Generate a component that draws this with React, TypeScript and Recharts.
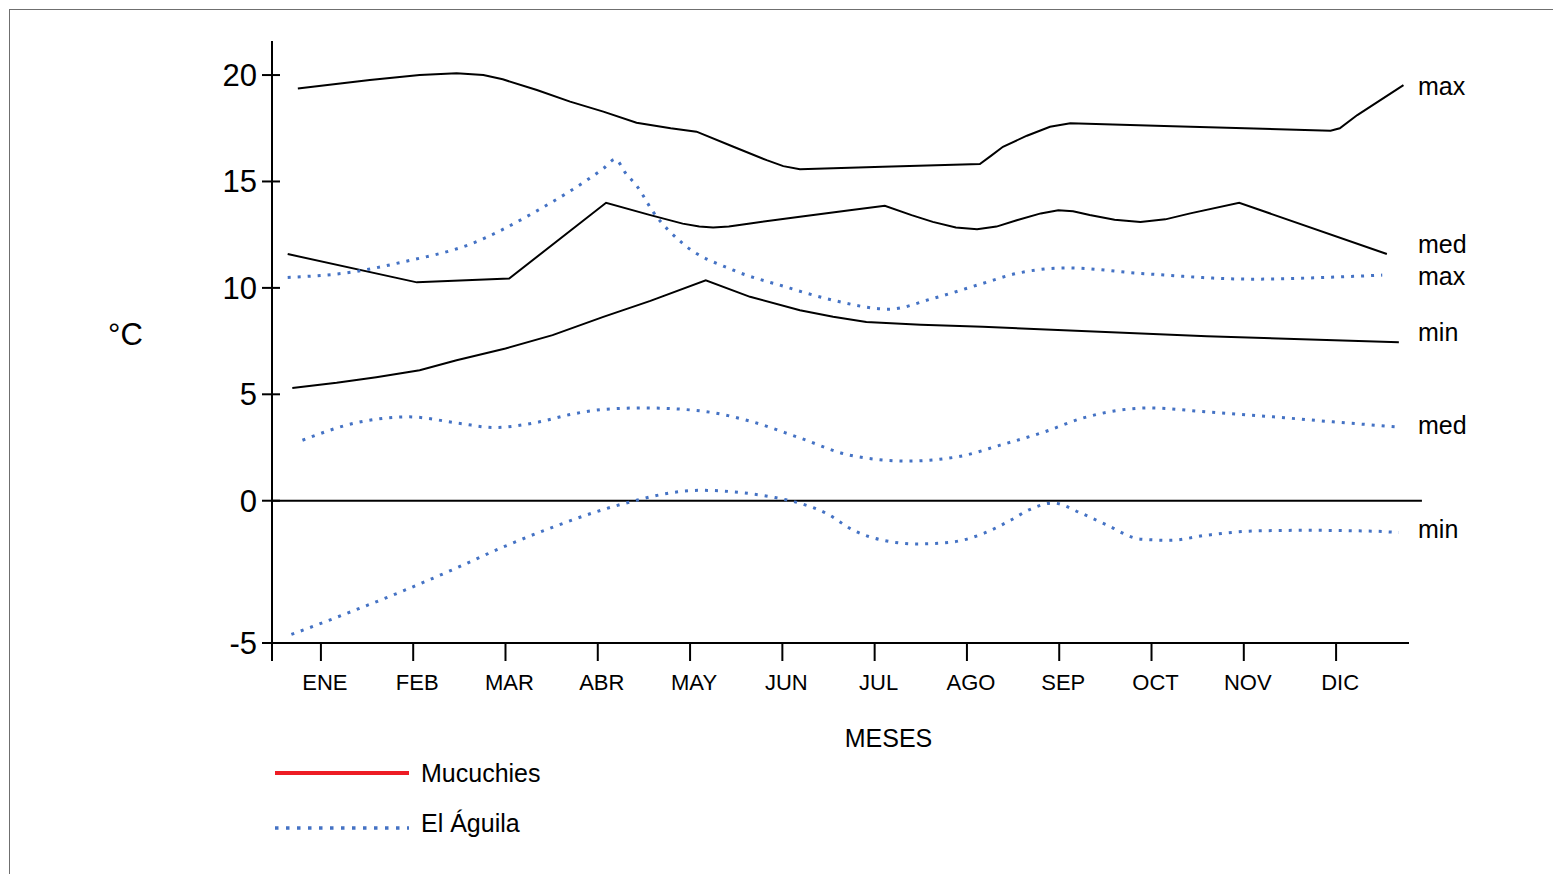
import { LineChart, Line, XAxis, YAxis, ReferenceLine, Legend, LabelList } from 'recharts';

const FONT = "'Liberation Sans', Arial, sans-serif";
const BLUE = '#4472c4';

// months sit at 1..12 on a numeric axis so the hand-traced curves can fall between them
const monthLabels = ['ENE', 'FEB', 'MAR', 'ABR', 'MAY', 'JUN', 'JUL', 'AGO', 'SEP', 'OCT', 'NOV', 'DIC'];
const monthTicks = [1, 2, 3, 4, 5, 6, 7, 8, 9, 10, 11, 12];
const monthDomain: [number, number] = [0.47, 12.79];
const tempTicks = [-5, 0, 5, 10, 15, 20];
const tempDomain: [number, number] = [-5, 21.6];

// [month, °C]
const mucuchiesMax: [number, number][] = [
  [0.75, 19.37], [1.53, 19.77], [2.07, 20.0], [2.47, 20.08], [2.76, 20.0], [2.97, 19.8],
  [3.34, 19.3], [3.7, 18.75], [4.06, 18.28], [4.42, 17.76], [4.79, 17.5], [5.07, 17.34],
  [5.47, 16.63], [5.83, 16.0], [6.01, 15.72], [6.19, 15.57], [7.09, 15.69], [8.14, 15.82],
  [8.26, 16.2], [8.39, 16.63], [8.65, 17.15], [8.9, 17.57], [9.12, 17.73], [10.23, 17.6],
  [11.94, 17.38], [12.04, 17.5], [12.23, 18.12], [12.73, 19.53],
];
const mucuchiesMed: [number, number][] = [
  [0.64, 11.59], [2.04, 10.26], [3.04, 10.44], [4.09, 14.0], [4.57, 13.42], [4.92, 13.02],
  [5.1, 12.88], [5.25, 12.84], [5.42, 12.88], [5.65, 13.03], [6.19, 13.34], [6.73, 13.65],
  [7.11, 13.86], [7.4, 13.42], [7.63, 13.1], [7.88, 12.84], [8.11, 12.75], [8.32, 12.88],
  [8.54, 13.18], [8.8, 13.5], [8.99, 13.65], [9.15, 13.6], [9.33, 13.42], [9.6, 13.2],
  [9.88, 13.1], [10.15, 13.22], [10.42, 13.5], [10.95, 14.0], [12.55, 11.59],
];
const mucuchiesMin: [number, number][] = [
  [0.69, 5.3], [1.17, 5.54], [1.6, 5.8], [2.07, 6.13], [2.47, 6.6], [3.0, 7.15], [3.51, 7.78],
  [4.06, 8.64], [4.57, 9.39], [5.17, 10.36], [5.65, 9.58], [6.19, 8.95], [6.55, 8.64],
  [6.91, 8.4], [7.5, 8.27], [8.17, 8.17], [10.6, 7.73], [12.68, 7.45],
];
const aguilaMax: [number, number][] = [
  [0.64, 10.49], [1.35, 10.75], [1.89, 11.22], [2.61, 12.04], [3.34, 13.62], [4.06, 15.61],
  [4.19, 16.04], [4.3, 15.4], [4.43, 14.75], [4.6, 13.57], [4.92, 12.09], [5.47, 10.83],
  [6.01, 10.08], [6.55, 9.42], [7.15, 9.0], [7.63, 9.5], [8.17, 10.21], [8.54, 10.68],
  [9.09, 10.94], [9.88, 10.68], [11.1, 10.41], [12.04, 10.52], [12.5, 10.6],
];
const aguilaMed: [number, number][] = [
  [0.8, 2.84], [1.35, 3.63], [1.95, 3.94], [2.51, 3.63], [2.87, 3.44], [3.34, 3.68],
  [3.7, 4.05], [4.06, 4.29], [4.51, 4.36], [5.11, 4.22], [5.65, 3.74], [6.19, 2.95],
  [6.73, 2.14], [7.35, 1.86], [7.93, 2.09], [8.36, 2.61], [8.83, 3.22], [9.26, 3.89],
  [9.98, 4.36], [10.6, 4.17], [11.32, 3.94], [12.04, 3.68], [12.66, 3.47],
];
const aguilaMin: [number, number][] = [
  [0.68, -4.7], [0.92, -4.41], [1.35, -3.87], [1.89, -3.17], [2.43, -2.42], [2.98, -1.62],
  [3.52, -0.92], [4.06, -0.31], [4.42, 0.02], [4.75, 0.34], [5.11, 0.49], [5.58, 0.37],
  [5.92, 0.15], [6.16, -0.06], [6.48, -0.45], [6.77, -1.04], [7.09, -1.39], [7.46, -1.52],
  [7.82, -1.46], [8.18, -1.15], [8.47, -0.69], [8.68, -0.31], [8.93, -0.08], [9.23, -0.43],
  [9.52, -0.86], [9.88, -1.35], [10.2, -1.39], [10.6, -1.21], [11.14, -1.06], [11.68, -1.04],
  [12.4, -1.07], [12.68, -1.12],
];

const series = [
  { id: 'mMax', tag: 'max', points: mucuchiesMax, blue: false, tagShift: 10 },
  { id: 'mMed', tag: 'med', points: mucuchiesMed, blue: false, tagShift: -1 },
  { id: 'mMin', tag: 'min', points: mucuchiesMin, blue: false, tagShift: -1 },
  { id: 'aMax', tag: 'max', points: aguilaMax, blue: true, tagShift: 10 },
  { id: 'aMed', tag: 'med', points: aguilaMed, blue: true, tagShift: 7 },
  { id: 'aMin', tag: 'min', points: aguilaMin, blue: true, tagShift: 5 },
];

// the printed axis gives the span below zero more room than the 5-degree steps above it
const BELOW_ZERO_STRETCH = 1.337;

function stretchedScale() {
  let dom = [0, 1];
  let rng = [0, 1];
  const u = (v: number) => (v < 0 ? v * BELOW_ZERO_STRETCH : v);
  const scale: any = (v: number) => {
    const u0 = u(dom[0]);
    const u1 = u(dom[dom.length - 1]);
    return rng[0] + ((u(Number(v)) - u0) / (u1 - u0)) * (rng[rng.length - 1] - rng[0]);
  };
  scale.domain = (d?: number[]) => {
    if (d === undefined) return dom.slice();
    dom = d.map(Number);
    return scale;
  };
  scale.range = (r?: number[]) => {
    if (r === undefined) return rng.slice();
    rng = r.map(Number);
    return scale;
  };
  scale.copy = () => stretchedScale().domain(dom).range(rng);
  scale.ticks = () => tempTicks;
  return scale;
}

const TAG_X = 1408;

const TempTick = ({ x, y, payload }: any) => (
  <g>
    <line x1={x - 10} x2={x + 8} y1={y} y2={y} stroke="#000" strokeWidth={2} />
    <text x={x - 15} y={y} dy={11} textAnchor="end" fontSize={31} fill="#000" fontFamily={FONT}>
      {payload.value}
    </text>
  </g>
);

const MonthTick = ({ x, y, payload }: any) => {
  const i = monthTicks.indexOf(payload.value);
  if (i < 0) return null;
  return (
    <text x={x + 4} y={y} dy={15.6} textAnchor="middle" fontSize={22} fill="#000" fontFamily={FONT}>
      {monthLabels[i]}
    </text>
  );
};

const endTag = (text: string, shift: number, last: number) => (props: any) => {
  if (props.index !== last) return null;
  const y = props.viewBox?.y ?? props.y;
  return (
    <text x={TAG_X} y={y + shift} fontSize={25} fill="#000" fontFamily={FONT}>
      {text}
    </text>
  );
};

const LegendBox = () => (
  <svg width={420} height={100} style={{ display: 'block' }}>
    <line x1={0} x2={134} y1={13} y2={13} stroke="#ed1c24" strokeWidth={4} />
    <text x={146} y={22} fontSize={25} fill="#000" fontFamily={FONT}>Mucuchies</text>
    <line x1={0} x2={134} y1={68} y2={68} stroke={BLUE} strokeWidth={3.5} strokeDasharray="3.5 7.5" />
    <text x={146} y={72} fontSize={25} fill="#000" fontFamily={FONT}>El Águila</text>
  </svg>
);

export default function App() {
  const tempScale = stretchedScale();
  return (
    <>
      <style>{'html,body{overflow:hidden}'}</style>
      <div
        style={{
          position: 'relative',
          left: 1,
          top: 1,
          width: 1552,
          height: 866,
          boxSizing: 'border-box',
          borderTop: '1px solid #6f6f6f',
          borderLeft: '1px solid #6f6f6f',
          background: '#fff',
          fontFamily: FONT,
        }}
      >
        <LineChart width={1540} height={855} margin={{ top: 31, right: 141, bottom: 112, left: 0 }}>
          <XAxis
            type="number"
            dataKey="m"
            domain={monthDomain}
            allowDataOverflow
            ticks={[monthDomain[0], ...monthTicks]}
            interval={0}
            height={110}
            stroke="#000"
            axisLine={{ stroke: '#000', strokeWidth: 2 }}
            tickLine={{ stroke: '#000', strokeWidth: 2 }}
            tickSize={18}
            tickMargin={13}
            tick={<MonthTick />}
            label={{
              content: (p: any) => (
                <text
                  x={p.viewBox.x + p.viewBox.width / 2 + 48}
                  y={p.viewBox.y + 104}
                  textAnchor="middle"
                  fontSize={25}
                  fill="#000"
                  fontFamily={FONT}
                >
                  MESES
                </text>
              ),
            }}
          />
          <YAxis
            type="number"
            scale={tempScale}
            domain={tempDomain}
            allowDataOverflow
            ticks={tempTicks}
            interval={0}
            width={262}
            stroke="#000"
            axisLine={{ stroke: '#000', strokeWidth: 2 }}
            tickLine={false}
            tickSize={0}
            tickMargin={0}
            tick={<TempTick />}
            label={{
              content: (p: any) => (
                <text
                  x={p.viewBox.x + 98}
                  y={p.viewBox.y + p.viewBox.height / 2 + 3}
                  fontSize={31}
                  fill="#000"
                  fontFamily={FONT}
                >
                  °C
                </text>
              ),
            }}
          />
          <ReferenceLine
            segment={[
              { x: monthDomain[0], y: 0 },
              { x: 12.93, y: 0 },
            ]}
            stroke="#000"
            strokeWidth={2}
            ifOverflow="visible"
          />
          {series.map((s) => (
            <Line
              key={s.id}
              data={s.points.map(([m, t]) => ({ m, t }))}
              dataKey="t"
              type={s.blue ? 'monotone' : 'linear'}
              stroke={s.blue ? BLUE : '#000'}
              strokeWidth={s.blue ? 3 : 2}
              strokeDasharray={s.blue ? '3 7' : undefined}
              dot={false}
              activeDot={false}
              isAnimationActive={false}
            >
              <LabelList dataKey="t" content={endTag(s.tag, s.tagShift, s.points.length - 1)} />
            </Line>
          ))}
          <Legend
            layout="vertical"
            align="center"
            verticalAlign="middle"
            wrapperStyle={{ left: 265, top: 750, width: 420, height: 100 }}
            content={<LegendBox />}
          />
        </LineChart>
      </div>
    </>
  );
}
